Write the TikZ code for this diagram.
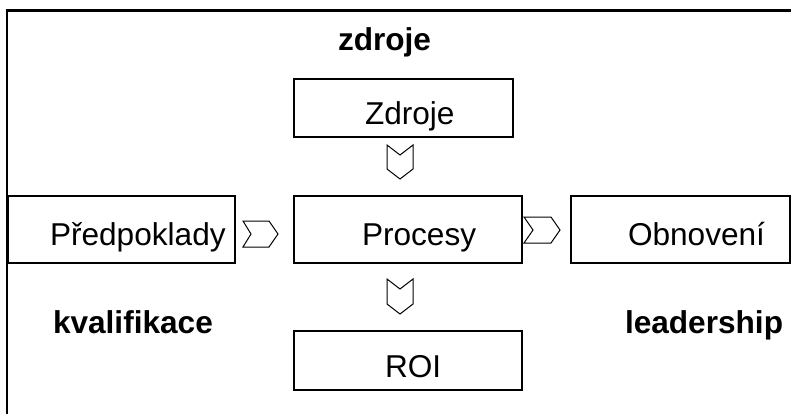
\documentclass[tikz,border=0pt]{standalone}
\usepackage{fontspec}
\setmainfont{Liberation Sans}
\begin{document}
\begin{tikzpicture}[x=0.5pt,y=-0.5pt,
  box/.style={draw=black, line width=0.6pt, inner sep=0pt, outer sep=0pt},
  lbl/.style={anchor=base west, inner sep=0pt, outer sep=0pt, font=\fontsize{15.8}{18}\selectfont},
  blbl/.style={anchor=base west, inner sep=0pt, outer sep=0pt, font=\fontsize{15.8}{18}\selectfont\bfseries},
  chev/.style={draw=black, line width=0.5pt, line join=miter},
  frame/.style={draw=black, line width=1.1pt}]
\useasboundingbox (0,0) rectangle (791,413);
\clip (0,0) rectangle (791,413);
\fill[white] (0,0) rectangle (791,413);
\draw[frame] (7,10.5) rectangle (805,425);

% boxes
\node[box, minimum width=109.5pt, minimum height=29pt] (zdrojebox) at (403.5,108) {};
\node[box, minimum width=113.5pt, minimum height=33.5pt] (predbox) at (121.5,229.5) {};
\node[box, minimum width=114pt, minimum height=33.5pt] (procbox) at (408,229.5) {};
\node[box, minimum width=109.5pt, minimum height=33.5pt] (obnbox) at (680.5,229.5) {};
\node[box, minimum width=114pt, minimum height=29.5pt] (roibox) at (408,360.5) {};

% box texts
\node[lbl] (zdrojelbl) at (365,124) {Zdroje};
\node[lbl] (predlbl) at (50,245) {Předpoklady};
\node[lbl] (proclbl) at (362,245) {Procesy};
\node[lbl] (obnlbl) at (628,245) {Obnovení};
\node[lbl] (roilbl) at (385,377) {ROI};

% bold labels
\node[blbl] (title) at (338,50) {zdroje};
\node[blbl] (kval) at (53,333) {kvalifikace};
\node[blbl] (lead) at (625,333) {leadership};

% chevrons
\draw[chev] (387,145) -- (400,155) -- (413,145) -- (413,169) -- (400,179) -- (387,169) -- cycle;
\draw[chev] (387,279) -- (400,289) -- (413,279) -- (413,304) -- (400,314) -- (387,304) -- cycle;
\draw[chev] (243,221) -- (269,221) -- (278,234) -- (269,247) -- (243,247) -- (251,234) -- cycle;
\draw[chev] (524,217) -- (551,217) -- (560,230) -- (551,243) -- (524,243) -- (533,230) -- cycle;
\end{tikzpicture}
\end{document}
